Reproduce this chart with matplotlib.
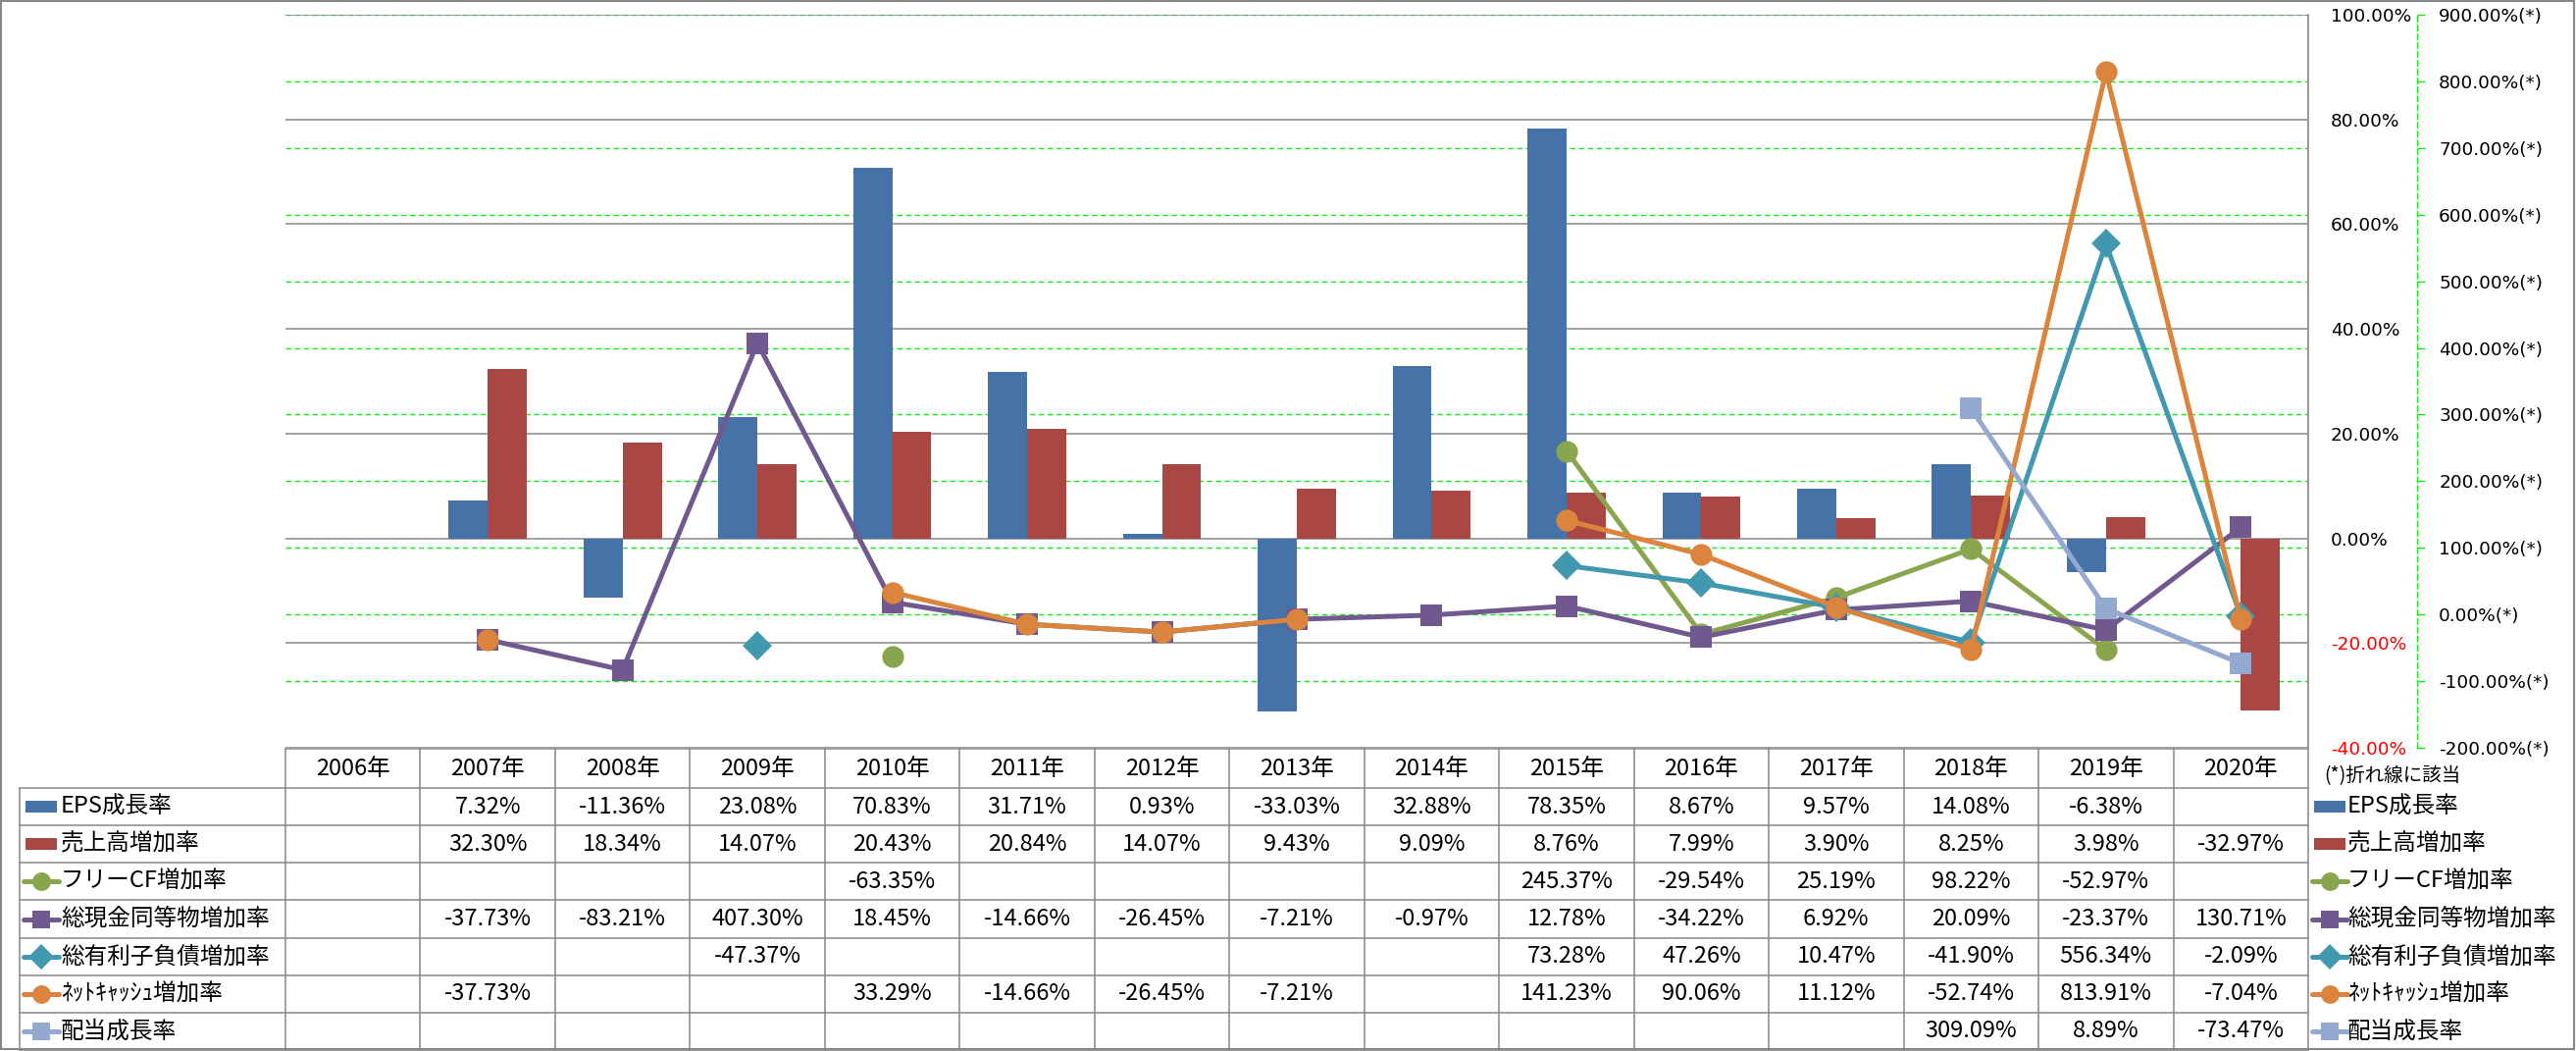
import numpy as np
import matplotlib.pyplot as plt
from matplotlib import font_manager
from matplotlib.transforms import blended_transform_factory
from matplotlib.patches import Rectangle

nan = np.nan

# ---- data (percent) ----
years = [f"{y}年" for y in range(2006, 2021)]
eps = [nan, 7.32, -11.36, 23.08, 70.83, 31.71, 0.93, -33.03, 32.88, 78.35, 8.67, 9.57, 14.08, -6.38, nan]
sales = [nan, 32.30, 18.34, 14.07, 20.43, 20.84, 14.07, 9.43, 9.09, 8.76, 7.99, 3.90, 8.25, 3.98, -32.97]
fcf = [nan, nan, nan, nan, -63.35, nan, nan, nan, nan, 245.37, -29.54, 25.19, 98.22, -52.97, nan]
cash = [nan, -37.73, -83.21, 407.30, 18.45, -14.66, -26.45, -7.21, -0.97, 12.78, -34.22, 6.92, 20.09, -23.37, 130.71]
debt = [nan, nan, nan, -47.37, nan, nan, nan, nan, nan, 73.28, 47.26, 10.47, -41.90, 556.34, -2.09]
netcash = [nan, -37.73, nan, nan, 33.29, -14.66, -26.45, -7.21, nan, 141.23, 90.06, 11.12, -52.74, 813.91, -7.04]
dividend = [nan] * 12 + [309.09, 8.89, -73.47]

bar_names = ["EPS成長率", "売上高増加率"]
line_names = ["フリーCF増加率", "総現金同等物増加率", "総有利子負債増加率", "ﾈｯﾄｷｬｯｼｭ増加率", "配当成長率"]

# ---- styles ----
C_EPS, C_SALES = "#4572A7", "#AA4643"
line_styles = [("#89A54E", "o", 16), ("#71588F", "s", 16), ("#4198AF", "D", 15.5),
               ("#DB843D", "o", 16), ("#93A9CF", "s", 16)]
GRAY = "#878787"
GREEN = "#1ee61e"

have = {f.name for f in font_manager.fontManager.ttflist}
JP = ["Liberation Sans Narrow", "Noto Sans CJK JP"] if "Liberation Sans Narrow" in have else ["Noto Sans CJK JP"]
plt.rcParams["font.family"] = ["DejaVu Sans", "Noto Sans CJK JP"]

# ---- layout in pixels ----
W, H = 2626, 1071
PL, PR, PT, PB = 291, 2353, 15, 762
fig = plt.figure(figsize=(W / 100, H / 100), dpi=100)
fig.patch.set_facecolor("white")

ax = fig.add_axes([PL / W, 1 - PB / H, (PR - PL) / W, (PB - PT) / H])
ax.patch.set_visible(False)
ax2 = ax.twinx()

x = np.arange(len(years))
bw = 0.29
ax.bar(x - bw / 2, eps, bw, color=C_EPS, zorder=2)
ax.bar(x + bw / 2, sales, bw, color=C_SALES, zorder=2)

ax.set_xlim(-0.5, len(years) - 0.5)
ax.set_ylim(-40, 100)
ax2.set_ylim(-200, 900)

# primary (bar) axis on the right
pticks = np.arange(-40, 101, 20)
ax.yaxis.tick_right()
ax.set_yticks(pticks)
ax.set_yticklabels([f"{v:.2f}%" for v in pticks])
ax.tick_params(axis="y", length=0, pad=16.5, labelsize=13.3)
for lab, v in zip(ax.get_yticklabels(), pticks):
    lab.set_color("red" if v < 0 else "black")
ax.set_xticks([])
for s in ["top", "left", "bottom"]:
    ax.spines[s].set_visible(False)
ax.spines["right"].set_color(GRAY)
ax.spines["right"].set_linewidth(1.2)
ax.set_axisbelow(True)
ax.yaxis.grid(True, color=GRAY, linewidth=1.1)

# secondary (line) axis
sticks = np.arange(-200, 901, 100)
ax2.set_yticks(sticks)
ax2.set_yticklabels([f"{v:.2f}%(*)" for v in sticks])
ax2.tick_params(axis="y", which="both", length=6, width=1, color=GREEN, pad=10,
                labelsize=13.3, labelright=True, right=True)
for lab, v in zip(ax2.get_yticklabels(), sticks):
    lab.set_color("red" if v < 0 else "black")
    lab.set_fontsize(13.3)
for s in ["top", "left", "bottom"]:
    ax2.spines[s].set_visible(False)
ax2.spines["right"].set_position(("axes", (2464 - PL) / (PR - PL)))
ax2.spines["right"].set_color(GREEN)
ax2.spines["right"].set_linestyle((0, (4, 2.5)))
ax2.spines["right"].set_linewidth(1)

# secondary gridlines drawn under the bars
gtr = blended_transform_factory(ax.transAxes, ax2.transData)
for v in sticks:
    ax.plot([0, 1], [v, v], transform=gtr, color=GREEN, lw=1, ls=(0, (4, 2.5)), zorder=0.4)

series = [fcf, cash, debt, netcash, dividend]
for vals, (c, m, ms) in zip(series, line_styles):
    ax2.plot(x, vals, color=c, lw=3.6, marker=m, markersize=ms, markeredgewidth=0,
             solid_capstyle="round", zorder=3)

# ---- data table ----
tb = fig.add_axes([0, 0, 1, 1], zorder=-1)
tb.set_xlim(0, W)
tb.set_ylim(H, 0)
tb.axis("off")
tb.add_patch(Rectangle((1, 1), W - 3, H - 3, fill=False, edgecolor=GRAY, lw=1.5))

cw = (PR - PL) / len(years)
TL = 20
HT, HB = 763, 803
rh = (1070 - HB) / 7
row_y = [HB + rh * i for i in range(8)]

# grid lines
tb.plot([PL, PR], [HT, HT], color=GRAY, lw=1.1)
for yy in row_y:
    tb.plot([TL, PR], [yy, yy], color=GRAY, lw=1.1)
tb.plot([TL, TL], [HB, row_y[-1]], color=GRAY, lw=1.1)
for k in range(len(years) + 1):
    xx = PL + k * cw
    tb.plot([xx, xx], [HT, row_y[-1]], color=GRAY, lw=1.1)

for k, yl in enumerate(years):
    tb.text(PL + (k + 0.5) * cw, (HT + HB) / 2, yl, ha="center", va="center",
            fontsize=17, family=JP)

all_rows = [eps, sales] + series
all_names = bar_names + line_names
keys = [("bar", C_EPS, None, None), ("bar", C_SALES, None, None)] + \
       [("line", c, m, ms) for c, m, ms in line_styles]


def draw_key(x0, yc, key):
    kind, c, m, ms = key
    if kind == "bar":
        tb.add_patch(Rectangle((x0 + 2, yc - 6), 32, 12, color=c, lw=0))
    else:
        tb.plot([x0, x0 + 36], [yc, yc], color=c, lw=3.6, solid_capstyle="round")
        tb.plot([x0 + 18], [yc], color=c, marker=m, markersize=ms * 0.85, markeredgewidth=0)


for r, (name, vals, key) in enumerate(zip(all_names, all_rows, keys)):
    yc = row_y[r] + rh / 2
    draw_key(24, yc, key)
    tb.text(62, yc, name, ha="left", va="center", fontsize=17, family=JP)
    for k, v in enumerate(vals):
        if not np.isnan(v):
            tb.text(PL + (k + 0.5) * cw, yc, f"{v:.2f}%", ha="center", va="center",
                    fontsize=17, family=JP)
    # right-hand legend
    draw_key(2357, yc, key)
    tb.text(2393, yc, name, ha="left", va="center", fontsize=17, family=JP)

tb.text(2369, 791, "(*)折れ線に該当", ha="left", va="center", fontsize=14, family=JP)

fig.savefig("out.png", dpi=100, facecolor="white")
